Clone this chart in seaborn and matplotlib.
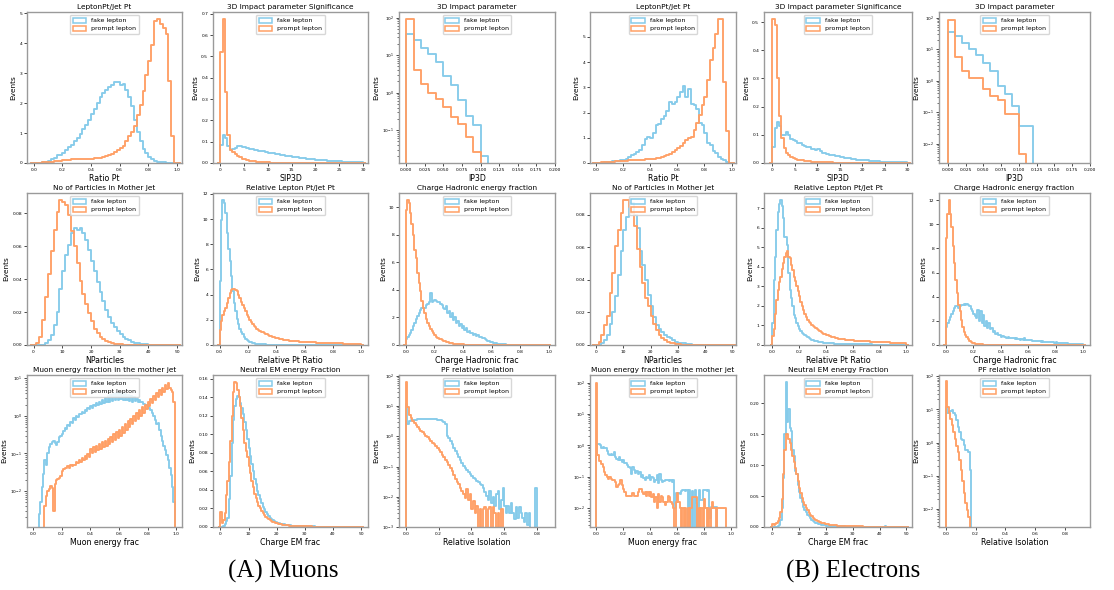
import numpy as np
import pandas as pd
import matplotlib
matplotlib.use("Agg")
import matplotlib.pyplot as plt
from matplotlib.patches import Patch
import seaborn as sns

# ---------------- data (density per bin) ----------------
series_labels = ["fake lepton", "prompt lepton"]

# Muons
mu_ratio_range = [0.0, 1.0]
mu_ratio_fake = [0, 0, 0.01, 0.02, 0.04, 0.08, 0.12, 0.18, 0.28, 0.27,
                 0.35, 0.45, 0.52, 0.6, 0.72, 0.85, 0.98, 1.12, 1.28, 1.45,
                 1.62, 1.8, 2.0, 2.2, 2.35, 2.45, 2.55, 2.6, 2.7, 2.72,
                 2.62, 2.65, 2.45, 2.2, 1.9, 1.45, 1.05, 0.72, 0.48, 0.32,
                 0.2, 0.12, 0.08, 0.05, 0.03, 0.02, 0.01, 0, 0, 0]
mu_ratio_prompt = [0, 0, 0.01, 0.02, 0.03, 0.04, 0.05, 0.06, 0.07, 0.08,
                   0.09, 0.1, 0.11, 0.12, 0.12, 0.13, 0.13, 0.14, 0.14, 0.15,
                   0.15, 0.16, 0.17, 0.18, 0.2, 0.22, 0.26, 0.3, 0.36, 0.44,
                   0.5, 0.58, 0.75, 0.9, 1.05, 1.25, 1.6, 1.95, 2.4, 2.95,
                   3.4, 3.95, 4.75, 4.8, 4.65, 4.5, 4.3, 2.75, 0.9, 0]

mu_sip_range = [0.0, 30.0]
mu_sip_fake = [0.085, 0.13, 0.115, 0.08, 0.06, 0.065, 0.072, 0.078, 0.078, 0.076,
               0.073, 0.071, 0.068, 0.066, 0.063, 0.061, 0.058, 0.056, 0.054, 0.052,
               0.049, 0.047, 0.045, 0.043, 0.041, 0.039, 0.037, 0.035, 0.033, 0.031,
               0.029, 0.028, 0.026, 0.025, 0.023, 0.022, 0.02, 0.019, 0.018, 0.017,
               0.016, 0.015, 0.014, 0.013, 0.012, 0.011, 0.011, 0.01, 0.009, 0.009,
               0.008, 0.007, 0.007, 0.006, 0.006, 0.005, 0.005, 0.004, 0.004, 0.003]
mu_sip_prompt = [0.52, 0.675, 0.335, 0.13, 0.06, 0.05, 0.04, 0.032, 0.026, 0.021,
                 0.017, 0.014, 0.011, 0.009, 0.0075, 0.006, 0.005, 0.004, 0.0035, 0.003,
                 0.0025, 0.002, 0.0018, 0.0016, 0.0014, 0.0012, 0.0011, 0.001, 0.0009, 0.0008,
                 0.0007, 0.0006, 0.0005, 0.0005, 0.0004, 0.0004, 0.0003, 0.0003, 0.0003, 0.0002,
                 0.0002, 0.0002, 0.0002, 0.0001, 0.0001, 0.0001, 0.0001, 0.0001, 0.0001, 0.0001,
                 0, 0, 0, 0, 0, 0, 0, 0, 0, 0]

mu_ip_range = [0.0, 0.19]
mu_ip_fake = [37.6, 25, 15.7, 10.4, 6.5, 2.77, 1.6, 0.64, 0.245, 0.139, 0.02, 0, 0, 0, 0, 0, 0, 0, 0]
mu_ip_prompt = [90, 4.0, 1.7, 1.0, 0.665, 0.41, 0.22, 0.148, 0.065, 0.0255, 0, 0, 0, 0, 0, 0, 0, 0, 0]

mu_npart_range = [0, 50]
mu_npart_fake = [0, 0, 0, 0.0003, 0.001, 0.003, 0.006, 0.012, 0.02, 0.034,
                 0.045, 0.055, 0.061, 0.068, 0.071, 0.07, 0.071, 0.068, 0.0636, 0.058,
                 0.051, 0.045, 0.038, 0.032, 0.027, 0.0215, 0.017, 0.0135, 0.011, 0.0085,
                 0.0065, 0.005, 0.0038, 0.0028, 0.002, 0.0015, 0.0011, 0.0008, 0.0006, 0.0005,
                 0.0003, 0.0002, 0.0002, 0.0001, 0.0001, 0.0001, 0, 0, 0, 0]
mu_npart_prompt = [0, 0.001, 0.005, 0.015, 0.029, 0.043, 0.057, 0.07, 0.081, 0.088,
                   0.087, 0.085, 0.079, 0.069, 0.06, 0.05, 0.039, 0.031, 0.025, 0.0195,
                   0.0144, 0.01, 0.007, 0.005, 0.0035, 0.0025, 0.0018, 0.0012, 0.0008, 0.0006,
                   0.0004, 0.0003, 0.0002, 0.0002, 0.0001, 0.0001, 0, 0, 0, 0,
                   0, 0, 0, 0, 0, 0, 0, 0, 0, 0]

mu_rel_range = [0.0, 1.0]
mu_rel_fake = [5.1, 9.9, 11.5, 11.3, 10.5, 8.9, 7.6, 6.7, 5.5, 4.3,
               3.3, 2.7, 2.1, 1.7, 1.3, 1.05, 0.85, 0.65, 0.5, 0.4,
               0.32, 0.26, 0.21, 0.17, 0.14, 0.11, 0.09, 0.075, 0.06, 0.055,
               0.05, 0.045, 0.04, 0.035, 0.03, 0.027, 0.024, 0.021, 0.019, 0.017,
               0.015, 0.014, 0.012, 0.011, 0.01, 0.009, 0.008, 0.007, 0.006, 0.006,
               0.005, 0.005, 0.004, 0.004, 0.003, 0.003, 0.003, 0.002, 0.002, 0.002,
               0.002, 0.002, 0.002, 0.001, 0.001, 0.001, 0.001, 0.001, 0.001, 0.001,
               0.001, 0.001, 0.001, 0.001, 0.001, 0.001, 0.001, 0, 0.001, 0,
               0.001, 0, 0, 0.001, 0, 0, 0, 0.001, 0, 0,
               0, 0, 0, 0, 0, 0, 0, 0, 0, 0]
mu_rel_prompt = [1.2, 1.9, 2.4, 2.7, 2.9, 3.3, 3.7, 4.1, 4.4, 4.45,
                 4.45, 4.4, 4.3, 4.0, 3.75, 3.45, 3.2, 2.95, 2.7, 2.4,
                 2.2, 2.0, 1.8, 1.65, 1.5, 1.4, 1.3, 1.22, 1.15, 1.07,
                 1.0, 0.95, 0.9, 0.85, 0.8, 0.75, 0.7, 0.66, 0.62, 0.58,
                 0.55, 0.52, 0.49, 0.46, 0.44, 0.42, 0.4, 0.38, 0.36, 0.35,
                 0.34, 0.32, 0.31, 0.3, 0.29, 0.28, 0.27, 0.26, 0.25, 0.25,
                 0.24, 0.23, 0.22, 0.22, 0.21, 0.21, 0.2, 0.2, 0.19, 0.19,
                 0.18, 0.18, 0.17, 0.17, 0.16, 0.16, 0.15, 0.15, 0.15, 0.14,
                 0.14, 0.13, 0.13, 0.13, 0.12, 0.12, 0.12, 0.11, 0.11, 0.11,
                 0.1, 0.1, 0.1, 0.09, 0.09, 0.09, 0.08, 0.08, 0.08, 0.07]

mu_chf_range = [0.0, 1.0]
mu_chf_fake = [0.45, 0.55, 0.7, 0.9, 1.1, 1.35, 1.6, 1.85, 2.1, 2.35,
               2.55, 2.65, 2.7, 2.65, 2.9, 3.0, 3.1, 3.8, 3.15, 3.2,
               3.25, 3.2, 3.15, 3.1, 3.0, 2.9, 2.7, 2.6, 2.8, 2.3,
               2.5, 2.05, 2.3, 1.8, 2.0, 1.6, 1.75, 1.4, 1.55, 1.2,
               1.35, 1.1, 1.2, 0.95, 1.0, 0.85, 0.9, 0.75, 0.8, 0.65,
               0.7, 0.55, 0.6, 0.48, 0.5, 0.4, 0.38, 0.32, 0.28, 0.24,
               0.2, 0.17, 0.14, 0.12, 0.1, 0.08, 0.07, 0.06, 0.05, 0.04,
               0.035, 0.03, 0.025, 0.02, 0.018, 0.015, 0.012, 0.01, 0.009, 0.008,
               0.007, 0.006, 0.005, 0.005, 0.004, 0.004, 0.003, 0.003, 0.003, 0.002,
               0.002, 0.002, 0.002, 0.001, 0.001, 0.001, 0.001, 0.001, 0.001, 0.001]
mu_chf_prompt = [9.8, 10.5, 10.3, 9.6, 8.8, 8.0, 6.9, 6.3, 5.2, 4.5,
                 3.9, 3.2, 2.7, 2.3, 1.9, 1.6, 1.35, 1.15, 1.0, 0.85,
                 0.7, 0.6, 0.5, 0.45, 0.4, 0.34, 0.3, 0.26, 0.22, 0.19,
                 0.16, 0.14, 0.12, 0.1, 0.09, 0.08, 0.07, 0.06, 0.05, 0.045,
                 0.04, 0.035, 0.03, 0.027, 0.024, 0.02, 0.018, 0.016, 0.014, 0.012,
                 0.01, 0.009, 0.008, 0.007, 0.006, 0.005, 0.005, 0.004, 0.004, 0.003,
                 0.003, 0.003, 0.002, 0.002, 0.002, 0.002, 0.001, 0.001, 0.001, 0.001,
                 0.001, 0.001, 0.001, 0.001, 0.001, 0, 0, 0, 0, 0,
                 0, 0, 0, 0, 0, 0, 0, 0, 0, 0,
                 0, 0, 0, 0, 0, 0, 0, 0, 0, 0]

mu_muf_range = [0.0, 1.0]
mu_muf_fake = [0, 0, 0, 0, 0.0025, 0.005, 0.0125, 0.028, 0.066, 0.05,
               0.1, 0.15, 0.18, 0.2, 0.22, 0.19, 0.165, 0.2, 0.28, 0.3,
               0.34, 0.4, 0.47, 0.45, 0.57, 0.55, 0.7, 0.65, 0.87, 0.8,
               1.0, 0.95, 1.15, 1.1, 1.3, 1.2, 1.45, 1.35, 1.6, 1.5,
               1.8, 1.6, 2.0, 1.8, 2.2, 1.9, 2.4, 2.1, 2.7, 2.2,
               3.0, 2.3, 3.3, 2.4, 3.6, 2.5, 3.9, 2.6, 4.0, 2.7,
               4.0, 2.8, 4.0, 2.7, 3.9, 2.6, 3.7, 2.5, 3.4, 2.4,
               3.1, 2.5, 2.9, 2.4, 2.6, 2.3, 2.4, 2.1, 2.0, 1.9,
               1.75, 1.6, 1.4, 1.2, 1.0, 0.78, 0.6, 0.65, 0.43, 0.3,
               0.22, 0.16, 0.12, 0.09, 0.066, 0.04, 0.027, 0.0125, 0.005, 0]
mu_muf_prompt = [0, 0, 0, 0, 0, 0, 0, 0, 0.004, 0.0075,
                 0.01, 0.011, 0.014, 0.012, 0.003, 0.015, 0.02, 0.021, 0.022, 0.025,
                 0.035, 0.038, 0.042, 0.04, 0.045, 0.042, 0.048, 0.045, 0.05, 0.048,
                 0.06, 0.055, 0.068, 0.06, 0.075, 0.065, 0.085, 0.07, 0.095, 0.08,
                 0.13, 0.1, 0.15, 0.11, 0.16, 0.12, 0.18, 0.13, 0.2, 0.15,
                 0.22, 0.16, 0.25, 0.18, 0.28, 0.2, 0.32, 0.23, 0.37, 0.26,
                 0.42, 0.3, 0.5, 0.36, 0.6, 0.42, 0.72, 0.5, 0.85, 0.6,
                 1.0, 0.72, 1.2, 0.85, 1.45, 1.0, 1.7, 1.2, 2.0, 1.5,
                 2.4, 1.8, 2.9, 2.2, 3.4, 2.6, 4.0, 3.1, 4.8, 3.7,
                 5.6, 4.4, 6.6, 5.2, 7.4, 5.6, 5.0, 4.4, 2.3, 0]

mu_nem_range = [0.0, 50.0]
mu_nem_fake = [0, 0, 0.001, 0.003, 0.006, 0.01, 0.03, 0.055, 0.09, 0.115,
               0.13, 0.138, 0.141, 0.14, 0.134, 0.128, 0.122, 0.113, 0.105, 0.095,
               0.085, 0.077, 0.068, 0.06, 0.052, 0.046, 0.039, 0.034, 0.03, 0.026,
               0.022, 0.019, 0.016, 0.014, 0.012, 0.01, 0.0085, 0.0075, 0.0065, 0.0055,
               0.0048, 0.0042, 0.0037, 0.0033, 0.003, 0.0027, 0.0024, 0.0022, 0.002, 0.0018,
               0.0016, 0.0015, 0.0014, 0.0013, 0.0012, 0.0011, 0.001, 0.001, 0.0009, 0.0009,
               0.0008, 0.0008, 0.0007, 0.0007, 0.0006, 0.0006, 0.0006, 0.0005, 0.0005, 0.0005,
               0.0004, 0.0004, 0.0004, 0.0004, 0.0003, 0.0003, 0.0003, 0.0003, 0.0003, 0.0002,
               0.0002, 0.0002, 0.0002, 0.0002, 0.0002, 0.0002, 0.0001, 0.0001, 0.0001, 0.0001,
               0.0001, 0.0001, 0.0001, 0.0001, 0.0001, 0.0001, 0.0001, 0, 0, 0]
mu_nem_prompt = [0.016, 0.004, 0.008, 0.015, 0.035, 0.05, 0.07, 0.093, 0.12, 0.145,
                 0.156, 0.155, 0.148, 0.14, 0.13, 0.118, 0.104, 0.09, 0.082, 0.075,
                 0.066, 0.058, 0.05, 0.043, 0.036, 0.031, 0.027, 0.023, 0.02, 0.017,
                 0.015, 0.013, 0.011, 0.0095, 0.0085, 0.0075, 0.0065, 0.0058, 0.005, 0.0045,
                 0.004, 0.0036, 0.0032, 0.0029, 0.0026, 0.0023, 0.0021, 0.0019, 0.0017, 0.0015,
                 0.0014, 0.0013, 0.0012, 0.0011, 0.001, 0.001, 0.0009, 0.0009, 0.0008, 0.0008,
                 0.0007, 0.0007, 0.0006, 0.0006, 0.0006, 0.0005, 0.0005, 0.0005, 0.0004, 0.0004,
                 0.0004, 0.0004, 0.0003, 0.0003, 0.0003, 0.0003, 0.0003, 0.0002, 0.0002, 0.0002,
                 0.0002, 0.0002, 0.0002, 0.0002, 0.0001, 0.0001, 0.0001, 0.0001, 0.0001, 0.0001,
                 0.0001, 0.0001, 0.0001, 0.0001, 0.0001, 0.0001, 0.0001, 0.0001, 0.0001, 0]

mu_iso_range = [0.0, 0.86]
mu_iso_fake = [12, 2.6, 3.2, 3.5, 3.6, 3.6, 3.6, 3.7, 3.7, 3.7,
               3.8, 3.8, 3.8, 3.8, 3.8, 3.8, 3.75, 3.7, 3.7, 3.6,
               3.5, 3.4, 3.2, 3.0, 2.6, 1.05, 0.9, 0.72, 0.55, 0.42,
               0.33, 0.27, 0.21, 0.16, 0.13, 0.105, 0.09, 0.075, 0.065, 0.055,
               0.048, 0.043, 0.038, 0.034, 0.03, 0.027, 0.024, 0.02, 0.014, 0.011,
               0.008, 0.015, 0.006, 0.01, 0.005, 0.012, 0.015, 0.004, 0.008, 0.02,
               0.005, 0.003, 0.005, 0.003, 0.006, 0.003, 0.0018, 0.0045, 0.002, 0.0045,
               0.003, 0.002, 0.0015, 0.003, 0.0012, 0.003, 0, 0, 0, 0.02,
               0, 0, 0, 0, 0, 0]
mu_iso_prompt = [65, 9.5, 5.0, 3.9, 3.2, 2.7, 2.3, 2.0, 1.75, 1.55,
                 1.35, 1.2, 1.05, 0.92, 0.8, 0.7, 0.62, 0.55, 0.48, 0.42,
                 0.36, 0.31, 0.25, 0.2, 0.17, 0.14, 0.11, 0.09, 0.07, 0.052,
                 0.04, 0.032, 0.026, 0.02, 0.015, 0.012, 0.009, 0.018, 0.008, 0.012,
                 0.004, 0.007, 0.003, 0.005, 0, 0.004, 0, 0.004, 0.0045, 0,
                 0.004, 0.0045, 0, 0.0045, 0.003, 0, 0.003, 0, 0.004, 0,
                 0, 0, 0, 0, 0, 0, 0, 0, 0, 0,
                 0, 0, 0, 0, 0, 0, 0, 0, 0, 0,
                 0, 0, 0, 0, 0, 0]

# Electrons
el_ratio_range = [0.0, 1.0]
el_ratio_fake = [0, 0, 0.01, 0.02, 0.03, 0.05, 0.06, 0.07, 0.08, 0.1,
                 0.1, 0.15, 0.25, 0.3, 0.35, 0.42, 0.5, 0.72, 0.95, 1.05,
                 0.98, 1.2, 1.5, 1.55, 1.75, 1.85, 2.05, 2.4, 2.35, 2.4,
                 2.6, 2.8, 3.05, 2.6, 2.95, 2.35, 2.3, 2.15, 1.6, 1.5,
                 1.2, 0.78, 0.7, 0.48, 0.4, 0.25, 0.15, 0.1, 0.04, 0]
el_ratio_prompt = [0, 0, 0.02, 0.03, 0.04, 0.05, 0.05, 0.06, 0.06, 0.07,
                   0.08, 0.09, 0.1, 0.1, 0.11, 0.12, 0.13, 0.13, 0.14, 0.15,
                   0.16, 0.17, 0.19, 0.21, 0.24, 0.27, 0.3, 0.35, 0.42, 0.5,
                   0.58, 0.68, 0.8, 0.92, 1.0, 1.05, 1.3, 1.6, 1.9, 2.3,
                   2.6, 3.3, 4.1, 4.55, 5.13, 5.7, 5.7, 3.2, 1.25, 0]

el_sip_range = [0.0, 30.0]
el_sip_fake = [0.055, 0.125, 0.145, 0.13, 0.1, 0.1, 0.11, 0.1, 0.085, 0.08,
               0.078, 0.072, 0.07, 0.065, 0.062, 0.058, 0.055, 0.05, 0.048, 0.045,
               0.05, 0.042, 0.036, 0.035, 0.033, 0.03, 0.03, 0.028, 0.025, 0.024,
               0.022, 0.02, 0.019, 0.018, 0.016, 0.015, 0.013, 0.012, 0.011, 0.01,
               0.01, 0.009, 0.009, 0.008, 0.007, 0.007, 0.006, 0.006, 0.005, 0.005,
               0.005, 0.004, 0.004, 0.004, 0.003, 0.003, 0.003, 0.003, 0.002, 0.002]
el_sip_prompt = [0.51, 0.49, 0.3, 0.166, 0.09, 0.053, 0.035, 0.027, 0.022, 0.018,
                 0.015, 0.012, 0.01, 0.009, 0.008, 0.007, 0.006, 0.005, 0.0045, 0.004,
                 0.0035, 0.003, 0.003, 0.0025, 0.002, 0.002, 0.0018, 0.0015, 0.0013, 0.0012,
                 0.001, 0.001, 0.0009, 0.0008, 0.0007, 0.0006, 0.0005, 0.0005, 0.0004, 0.0004,
                 0.0003, 0.0003, 0.0003, 0.0002, 0.0002, 0.0002, 0.0002, 0.0001, 0.0001, 0.0001,
                 0.0001, 0.0001, 0.0001, 0.0001, 0, 0, 0, 0, 0, 0]

el_ip_range = [0.0, 0.19]
el_ip_fake = [33.8, 26, 15.2, 9.9, 6.4, 3.6, 2.1, 0.7, 0.39, 0.164, 0.037, 0.037, 0, 0, 0, 0, 0, 0, 0]
el_ip_prompt = [86.5, 5.5, 2.1, 1.2, 1.2, 0.55, 0.32, 0.25, 0.091, 0.091, 0.0047, 0, 0, 0, 0, 0, 0, 0, 0]

el_npart_range = [0, 50]
el_npart_fake = [0, 0, 0.001, 0.003, 0.006, 0.013, 0.02, 0.03, 0.043, 0.058,
                 0.071, 0.079, 0.087, 0.087, 0.08, 0.072, 0.058, 0.049, 0.04, 0.031,
                 0.024, 0.017, 0.012, 0.01, 0.008, 0.006, 0.005, 0.004, 0.003, 0.002,
                 0.0015, 0.001, 0.001, 0.0007, 0.0005, 0.0003, 0.0002, 0.0002, 0.0001, 0.0001,
                 0, 0, 0, 0, 0, 0, 0, 0, 0, 0]
el_npart_prompt = [0, 0.002, 0.006, 0.012, 0.018, 0.032, 0.044, 0.061, 0.071, 0.081,
                   0.089, 0.089, 0.085, 0.081, 0.073, 0.059, 0.048, 0.038, 0.029, 0.024,
                   0.018, 0.013, 0.009, 0.006, 0.004, 0.003, 0.002, 0.0015, 0.001, 0.0007,
                   0.0004, 0.0003, 0.0002, 0.0001, 0.0001, 0, 0, 0, 0, 0,
                   0, 0, 0, 0, 0, 0, 0, 0, 0, 0]

el_rel_range = [0.0, 1.0]
el_rel_fake = [1.1, 3.3, 4.5, 5.9, 6.8, 7.2, 7.4, 7.1, 6.5, 5.5,
               5.5, 5.1, 3.7, 2.8, 2.4, 2.0, 1.55, 1.4, 1.1, 0.95,
               0.8, 0.7, 0.6, 0.55, 0.5, 0.45, 0.4, 0.35, 0.3, 0.28,
               0.25, 0.23, 0.2, 0.19, 0.17, 0.15, 0.14, 0.13, 0.12, 0.11,
               0.1, 0.095, 0.09, 0.085, 0.08, 0.078, 0.075, 0.07, 0.065, 0.06,
               0.06, 0.058, 0.055, 0.052, 0.05, 0.048, 0.046, 0.044, 0.042, 0.04,
               0.04, 0.038, 0.036, 0.035, 0.034, 0.033, 0.032, 0.031, 0.03, 0.03,
               0.029, 0.028, 0.027, 0.026, 0.025, 0.024, 0.023, 0.022, 0.021, 0.02,
               0.02, 0.019, 0.018, 0.018, 0.017, 0.016, 0.016, 0.015, 0.015, 0.014,
               0.014, 0.013, 0.013, 0.012, 0.012, 0.011, 0.011, 0.01, 0.01, 0.01]
el_rel_prompt = [0.45, 0.8, 1.6, 2.3, 2.8, 3.2, 3.5, 3.9, 4.2, 4.5,
                 4.7, 4.8, 4.5, 4.45, 4.1, 3.85, 3.5, 3.25, 3.0, 2.75,
                 2.5, 2.2, 2.0, 1.8, 1.6, 1.45, 1.3, 1.2, 1.1, 1.0,
                 0.95, 0.9, 0.85, 0.8, 0.75, 0.7, 0.66, 0.62, 0.58, 0.55,
                 0.52, 0.5, 0.47, 0.45, 0.43, 0.41, 0.39, 0.37, 0.35, 0.33,
                 0.32, 0.31, 0.3, 0.29, 0.28, 0.28, 0.27, 0.26, 0.25, 0.25,
                 0.24, 0.23, 0.22, 0.22, 0.21, 0.21, 0.2, 0.2, 0.19, 0.19,
                 0.18, 0.18, 0.18, 0.17, 0.17, 0.17, 0.16, 0.16, 0.16, 0.15,
                 0.15, 0.15, 0.14, 0.14, 0.14, 0.13, 0.13, 0.13, 0.12, 0.12,
                 0.12, 0.12, 0.11, 0.11, 0.11, 0.1, 0.1, 0.1, 0.1, 0.09]

el_chf_range = [0.0, 1.0]
el_chf_fake = [1.5, 1.8, 2.1, 2.35, 2.6, 2.85, 3.05, 3.2, 3.25, 3.05,
               3.2, 3.3, 3.35, 3.4, 3.35, 3.4, 3.3, 3.2, 3.0, 2.8,
               2.6, 2.4, 2.2, 2.9, 2.0, 2.8, 1.8, 2.5, 1.6, 2.0,
               1.45, 1.8, 1.3, 1.4, 1.1, 1.2, 0.95, 1.0, 0.8, 0.85,
               0.7, 0.75, 0.65, 0.7, 0.6, 0.65, 0.58, 0.6, 0.55, 0.57,
               0.52, 0.55, 0.5, 0.48, 0.45, 0.5, 0.42, 0.55, 0.4, 0.45,
               0.42, 0.38, 0.4, 0.35, 0.36, 0.33, 0.34, 0.3, 0.32, 0.28,
               0.3, 0.27, 0.28, 0.25, 0.26, 0.24, 0.25, 0.22, 0.24, 0.2,
               0.25, 0.19, 0.2, 0.17, 0.17, 0.15, 0.15, 0.13, 0.13, 0.12,
               0.11, 0.1, 0.1, 0.09, 0.08, 0.08, 0.07, 0.06, 0.06, 0.05]
el_chf_prompt = [8.9, 10.9, 12.0, 10.9, 9.8, 8.2, 6.8, 5.4, 4.3, 3.3,
                 2.8, 2.1, 1.5, 1.1, 0.83, 0.64, 0.47, 0.36, 0.28, 0.2,
                 0.15, 0.12, 0.1, 0.08, 0.07, 0.06, 0.05, 0.04, 0.035, 0.03,
                 0.025, 0.022, 0.02, 0.017, 0.015, 0.013, 0.012, 0.011, 0.01, 0.009,
                 0.008, 0.007, 0.006, 0.006, 0.005, 0.005, 0.004, 0.004, 0.003, 0.003,
                 0.003, 0.003, 0.002, 0.002, 0.002, 0.002, 0.002, 0.001, 0.001, 0.001,
                 0.001, 0.001, 0.001, 0.001, 0.001, 0.001, 0.001, 0.001, 0.001, 0.001,
                 0, 0, 0, 0, 0, 0, 0, 0, 0, 0,
                 0, 0, 0, 0, 0, 0, 0, 0, 0, 0,
                 0, 0, 0, 0, 0, 0, 0, 0, 0, 0]

el_muf_range = [0.0, 1.0]
el_muf_fake = [0.48, 1.1, 1.1, 1.0, 0.85, 0.9, 0.8, 0.82, 0.65, 0.55,
               0.48, 0.53, 0.48, 0.6, 0.42, 0.38, 0.34, 0.42, 0.34, 0.3,
               0.34, 0.27, 0.28, 0.24, 0.21, 0.19, 0.12, 0.21, 0.17, 0.13,
               0.15, 0.12, 0.14, 0.1, 0.11, 0.09, 0.08, 0.1, 0.09, 0.11,
               0.08, 0.1, 0.09, 0.07, 0.08, 0.11, 0.065, 0.12, 0.08, 0.07,
               0.075, 0.08, 0.078, 0.08, 0.075, 0.078, 0.07, 0.078, 0.01, 0.03,
               0.03, 0.03, 0.028, 0.035, 0.038, 0.038, 0.035, 0.038, 0, 0.038,
               0, 0.035, 0, 0.038, 0.015, 0, 0.038, 0.018, 0.018, 0.038,
               0.038, 0.038, 0.035, 0.038, 0.005, 0.011, 0.011, 0.011, 0.011, 0.011,
               0, 0, 0, 0, 0, 0, 0, 0, 0, 0]
el_muf_prompt = [100, 0.5, 0.33, 0.33, 0.26, 0.2, 0.14, 0.11, 0.1, 0.088,
                 0.1, 0.088, 0.077, 0.077, 0.07, 0.046, 0.055, 0.06, 0.077, 0.055,
                 0.04, 0.032, 0.025, 0.025, 0.025, 0.025, 0.025, 0.03, 0.025, 0.025,
                 0.025, 0.032, 0.04, 0.04, 0.032, 0.028, 0.032, 0.025, 0.032, 0.025,
                 0.032, 0.022, 0.028, 0.016, 0.022, 0.01, 0.028, 0.016, 0.025, 0.022,
                 0.016, 0.013, 0.016, 0.025, 0.022, 0.016, 0.014, 0.01, 0, 0.016,
                 0.03, 0.016, 0.01, 0, 0.01, 0, 0.01, 0, 0.01, 0,
                 0.01, 0.022, 0.022, 0.022, 0.022, 0, 0.01, 0, 0.01, 0,
                 0.02, 0.01, 0, 0.01, 0, 0.01, 0.016, 0.01, 0.01, 0,
                 0.01, 0.01, 0.01, 0.01, 0.01, 0.01, 0, 0, 0, 0]

el_nem_range = [0.0, 50.0]
el_nem_fake = [0, 0, 0, 0, 0.001, 0.003, 0.012, 0.03, 0.08, 0.15,
               0.234, 0.17, 0.19, 0.16, 0.155, 0.125, 0.115, 0.09, 0.085, 0.068,
               0.057, 0.047, 0.04, 0.033, 0.028, 0.024, 0.02, 0.017, 0.014, 0.012,
               0.01, 0.0085, 0.007, 0.006, 0.005, 0.0045, 0.004, 0.0035, 0.003, 0.0027,
               0.0024, 0.0022, 0.002, 0.0018, 0.0016, 0.0015, 0.0014, 0.0013, 0.0012, 0.0011,
               0.001, 0.001, 0.0009, 0.0009, 0.0008, 0.0008, 0.0007, 0.0007, 0.0006, 0.0006,
               0.0006, 0.0005, 0.0005, 0.0005, 0.0004, 0.0004, 0.0004, 0.0004, 0.0003, 0.0003,
               0.0003, 0.0003, 0.0003, 0.0003, 0.0002, 0.0002, 0.0002, 0.0002, 0.0002, 0.0002,
               0.0002, 0.0002, 0.0002, 0.0002, 0.002, 0.0002, 0.0001, 0.0001, 0.0001, 0.0001,
               0.0001, 0.0001, 0.0001, 0.0001, 0.0001, 0.0001, 0.0001, 0.0001, 0, 0]
el_nem_prompt = [0.005, 0.003, 0.005, 0.006, 0.01, 0.015, 0.025, 0.045, 0.085, 0.125,
                 0.15, 0.15, 0.143, 0.135, 0.125, 0.115, 0.105, 0.095, 0.086, 0.075,
                 0.063, 0.055, 0.047, 0.04, 0.035, 0.03, 0.027, 0.023, 0.02, 0.017,
                 0.015, 0.013, 0.012, 0.01, 0.009, 0.008, 0.007, 0.0065, 0.006, 0.0055,
                 0.005, 0.0045, 0.004, 0.0037, 0.0034, 0.003, 0.0028, 0.0026, 0.0024, 0.0022,
                 0.002, 0.0019, 0.0018, 0.0017, 0.0016, 0.0015, 0.0014, 0.0013, 0.0012, 0.0012,
                 0.0011, 0.0011, 0.001, 0.001, 0.001, 0.0009, 0.0009, 0.0009, 0.0008, 0.0008,
                 0.0008, 0.0007, 0.0007, 0.0007, 0.0007, 0.0006, 0.0006, 0.0006, 0.0006, 0.0006,
                 0.0005, 0.0005, 0.0005, 0.0005, 0.0005, 0.0005, 0.0004, 0.0004, 0.0004, 0.0004,
                 0.0004, 0.0004, 0.0004, 0.0004, 0.0003, 0.0003, 0.0003, 0.0003, 0.0003, 0.0003]

el_iso_range = [0.0, 0.2]
el_iso_fake = [12, 7.6, 8.5, 9.1, 9.5, 8.0, 6.7, 4.8, 3.0, 2.1,
               1.3, 1.2, 0.83, 0.59, 0.59, 0.5, 0.145, 0, 0, 0]
el_iso_prompt = [70, 12, 7.6, 5.3, 3.3, 2.1, 1.3, 0.8, 0.5, 0.3,
                 0.15, 0.07, 0.03, 0.015, 0.009, 0.0055, 0, 0, 0, 0]

# titles / axis labels
mu_titles = ["LeptonPt/Jet Pt", "3D Impact parameter Significance", "3D Impact parameter",
             "No of Particles in Mother Jet", "Relative Lepton Pt/Jet Pt", "Charge Hadronic energy fraction",
             "Muon energy fraction in the mother jet", "Neutral EM energy Fraction", "PF relative isolation"]
el_titles = mu_titles
xlabels = ["Ratio Pt", "SIP3D", "IP3D", "NParticles", "Relative Pt Ratio", "Charge Hadronic frac",
           "Muon energy frac", "Charge EM frac", "Relative Isolation"]
captions = ["(A) Muons", "(B) Electrons"]

# ---------------- figure ----------------
BLUE = "#86CBEA"
ORANGE = "#FFA066"
W, H = 1114, 590
fig = plt.figure(figsize=(W / 100, H / 100), dpi=100)

mu_cols = [(27, 182), (213, 368), (399, 555)]
el_cols = [(590, 736), (764, 912), (939, 1090)]
rows = [(12, 163), (193, 345), (375, 527)]


def make_ax(col, row):
    l, r = col
    t, b = row
    return fig.add_axes([l / W, 1 - b / H, (r - l) / W, (b - t) / H])


def draw(ax, title, xlabel, rng, fake, prompt, xlim, log=None, ylabel=True):
    fake = np.asarray(fake, float)
    prompt = np.asarray(prompt, float)
    n = len(fake)
    lo, hi = rng
    w = (hi - lo) / n
    edges = lo + w * np.arange(-1, n + 2)
    centers = 0.5 * (edges[:-1] + edges[1:])
    for vals, col in ((fake, BLUE), (prompt, ORANGE)):
        df = pd.DataFrame({"x": centers, "w": np.concatenate([[0.0], vals, [0.0]])})
        sns.histplot(data=df, x="x", weights="w", bins=list(edges), element="step", fill=False,
                     color=col, linewidth=1.35, ax=ax)
    ax.set_xlim(*xlim)
    if log is not None:
        ax.set_yscale("log")
        ax.set_ylim(*log)
    else:
        ax.set_ylim(0, max(fake.max(), prompt.max()) * 1.05)
    ax.set_title(title, fontsize=5.3, pad=2.5)
    ax.set_xlabel(xlabel, fontsize=5.7, labelpad=1.5)
    ax.set_ylabel("Events" if ylabel else "", fontsize=5.3, labelpad=2)
    ax.tick_params(labelsize=3.2, length=2, width=0.5, pad=1.5)
    ax.tick_params(which="minor", length=1.2, width=0.4)
    for s in ax.spines.values():
        s.set_color("#9a9a9a")
        s.set_linewidth(1.0)
    handles = [Patch(facecolor="none", edgecolor=BLUE, linewidth=1.1, label=series_labels[0]),
               Patch(facecolor="none", edgecolor=ORANGE, linewidth=1.1, label=series_labels[1])]
    ax.legend(handles=handles, loc="upper center", fontsize=4.5, borderaxespad=0.5,
              handlelength=2.2, handleheight=0.9, borderpad=0.4, labelspacing=0.35,
              framealpha=0.85, edgecolor="#d0d0d0", fancybox=True)


mu_specs = [
    (mu_ratio_range, mu_ratio_fake, mu_ratio_prompt, (-0.047, 1.035), None, True),
    (mu_sip_range, mu_sip_fake, mu_sip_prompt, (-1.53, 31.05), None, True),
    (mu_ip_range, mu_ip_fake, mu_ip_prompt, (-0.0095, 0.2), (0.0133, 141), True),
    (mu_npart_range, mu_npart_fake, mu_npart_prompt, (-2.3, 51.7), None, True),
    (mu_rel_range, mu_rel_fake, mu_rel_prompt, (-0.047, 1.047), None, True),
    (mu_chf_range, mu_chf_fake, mu_chf_prompt, (-0.047, 1.042), None, True),
    (mu_muf_range, mu_muf_fake, mu_muf_prompt, (-0.042, 1.04), (0.0011, 12.3), True),
    (mu_nem_range, mu_nem_fake, mu_nem_prompt, (-2.6, 52.4), None, True),
    (mu_iso_range, mu_iso_fake, mu_iso_prompt, (-0.041, 0.91), (0.001, 107), True),
]
el_specs = [
    (el_ratio_range, el_ratio_fake, el_ratio_prompt, (-0.042, 1.032), None, True),
    (el_sip_range, el_sip_fake, el_sip_prompt, (-1.85, 31.0), None, True),
    (el_ip_range, el_ip_fake, el_ip_prompt, (-0.0124, 0.2), (0.0025, 150), True),
    (el_npart_range, el_npart_fake, el_npart_prompt, (-2.2, 51.3), None, False),
    (el_rel_range, el_rel_fake, el_rel_prompt, (-0.062, 1.042), None, True),
    (el_chf_range, el_chf_fake, el_chf_prompt, (-0.05, 1.05), None, True),
    (el_muf_range, el_muf_fake, el_muf_prompt, (-0.044, 1.037), (0.0025, 176), False),
    (el_nem_range, el_nem_fake, el_nem_prompt, (-3.1, 52.1), None, True),
    (el_iso_range, el_iso_fake, el_iso_prompt, (-0.047, 0.97), (0.0028, 110), True),
]

for group, cols, titles in ((mu_specs, mu_cols, mu_titles), (el_specs, el_cols, el_titles)):
    for i, (rng, fk, pr, xl, lg, yl) in enumerate(group):
        ax = make_ax(cols[i % 3], rows[i // 3])
        draw(ax, titles[i], xlabels[i], rng, fk, pr, xl, lg, yl)

fig.text(283 / W, 1 - 571 / H, captions[0], ha="center", va="center",
         fontsize=18, family="Liberation Serif")
fig.text(853 / W, 1 - 571 / H, captions[1], ha="center", va="center",
         fontsize=18, family="Liberation Serif")

fig.savefig("out.png", dpi=100)
